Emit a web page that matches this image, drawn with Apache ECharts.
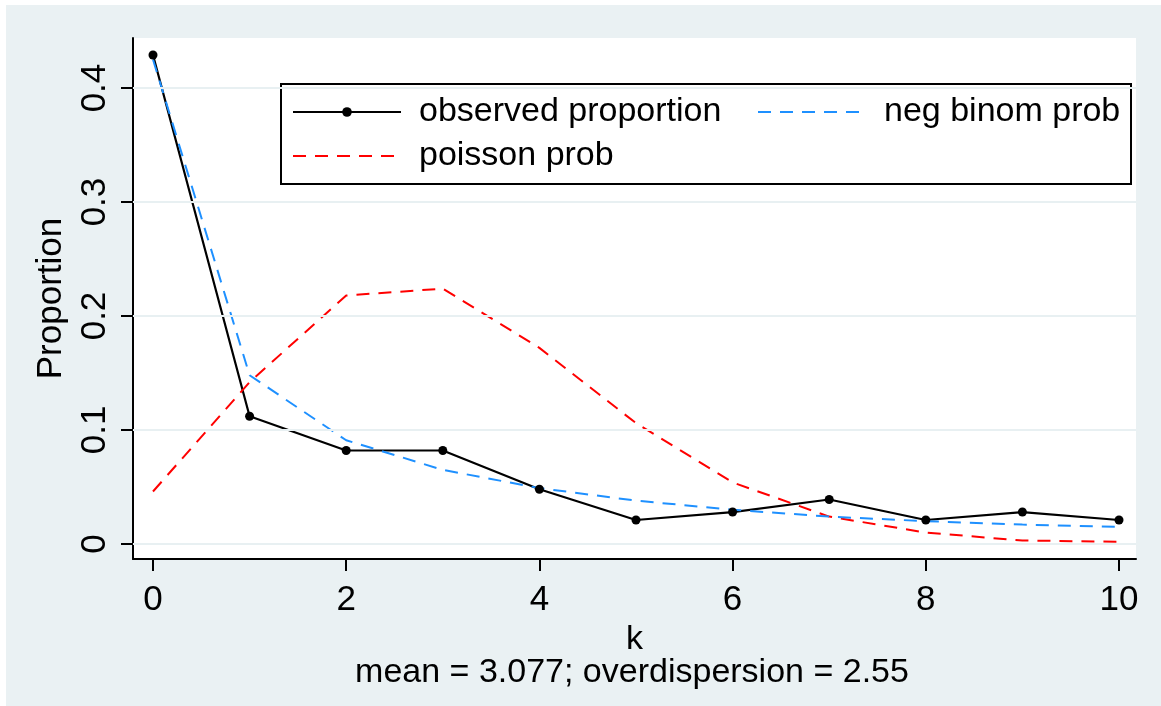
<!DOCTYPE html>
<html>
<head>
<meta charset="utf-8">
<script src="https://cdn.jsdelivr.net/npm/echarts@6/dist/echarts.min.js"></script>
<style>
html, body { margin: 0; padding: 0; background: #fff; }
#chart { position: absolute; left: 6px; top: 5px; width: 1155px; height: 701px; }
</style>
</head>
<body>
<div id="chart"></div>
<script>
// values
var kValues = [0, 1, 2, 3, 4, 5, 6, 7, 8, 9, 10];
var observed = [0.429, 0.112, 0.082, 0.082, 0.048, 0.021, 0.028, 0.039, 0.021, 0.028, 0.021];
var poisson = [0.046, 0.142, 0.218, 0.224, 0.172, 0.106, 0.054, 0.024, 0.010, 0.003, 0.002];
var negBinom = [0.425, 0.148, 0.091, 0.065, 0.049, 0.038, 0.030, 0.024, 0.020, 0.017, 0.015];
var xTicks = [0, 2, 4, 6, 8, 10];
var yTicks = [0, 0.1, 0.2, 0.3, 0.4];

var FONT = '"Liberation Sans", Arial, sans-serif';

function pairs(vals) {
	return kValues.map(function (k, i) { return [k, vals[i]]; });
}

function legendAt(name, left, top, hideDot) {
	var lg = {
		data: [name],
		left: left,
		top: top,
		padding: 0,
		itemWidth: 108,
		itemHeight: 12,
		selectedMode: false,
		textStyle: {
			fontFamily: FONT,
			fontSize: 34,
			color: '#000',
			padding: [0, 0, 0, 13]
		}
	};
	if (hideDot) {
		lg.itemStyle = { color: 'transparent', opacity: 0 };
	}
	return lg;
}

var option = {
	animation: false,
	backgroundColor: '#eaf1f3',
	grid: {
		left: 127,
		right: 25,
		top: 33,
		bottom: 147,
		show: true,
		backgroundColor: '#fff',
		borderWidth: 0
	},
	legend: [
		legendAt('observed proportion', 286, 90, false),
		legendAt('neg binom prob', 751, 90, true),
		legendAt('poisson prob', 286, 134, true)
	],
	graphic: [
		{
			type: 'rect',
			z: 3,
			shape: { x: 275, y: 79, width: 850, height: 100 },
			style: { fill: '#fff', stroke: '#000', lineWidth: 2 }
		},
		{
			type: 'text',
			z: 5,
			style: {
				text: 'mean = 3.077; overdispersion = 2.55',
				x: 626,
				y: 668,
				textAlign: 'center',
				textVerticalAlign: 'middle',
				font: '34px ' + FONT,
				fill: '#000'
			}
		}
	],
	xAxis: {
		type: 'value',
		min: -0.207,
		max: 10.176,
		name: 'k',
		nameLocation: 'middle',
		nameGap: 51,
		nameTextStyle: { fontFamily: FONT, fontSize: 34, color: '#000' },
		axisLine: { show: true, onZero: false, lineStyle: { color: '#000', width: 2 } },
		axisTick: { show: true, length: 12, lineStyle: { color: '#000', width: 2 }, customValues: xTicks },
		axisLabel: { fontFamily: FONT, fontSize: 35, color: '#000', margin: 24, customValues: xTicks },
		splitLine: { show: false }
	},
	yAxis: {
		type: 'value',
		min: -0.0132,
		max: 0.4439,
		name: 'Proportion',
		nameLocation: 'middle',
		nameRotate: 90,
		nameGap: 64,
		nameTextStyle: { fontFamily: FONT, fontSize: 35, color: '#000' },
		axisLine: { show: true, onZero: false, lineStyle: { color: '#000', width: 2 } },
		axisTick: { show: true, length: 12, lineStyle: { color: '#000', width: 2 }, customValues: yTicks },
		axisLabel: { fontFamily: FONT, fontSize: 35, color: '#000', margin: 20, rotate: 90, customValues: yTicks },
		splitLine: { show: false }
	},
	series: [
		{
			// grid lines at the y ticks
			type: 'line',
			z: 1,
			silent: true,
			data: [],
			markLine: {
				silent: true,
				symbol: 'none',
				label: { show: false },
				lineStyle: { color: '#e8f0f2', width: 2, type: 'solid' },
				data: yTicks.map(function (v) { return { yAxis: v }; })
			}
		},
		{
			name: 'observed proportion',
			type: 'line',
			data: pairs(observed),
			symbol: 'circle',
			symbolSize: 9,
			itemStyle: { color: '#000' },
			lineStyle: { color: '#000', width: 2.2 }
		},
		{
			name: 'poisson prob',
			type: 'line',
			data: pairs(poisson),
			symbol: 'none',
			itemStyle: { color: '#ff0000' },
			lineStyle: { color: '#ff0000', width: 2, type: [13, 9] }
		},
		{
			name: 'neg binom prob',
			type: 'line',
			data: pairs(negBinom),
			symbol: 'none',
			itemStyle: { color: '#1e90ff' },
			lineStyle: { color: '#1e90ff', width: 2, type: [13, 9] }
		}
	]
};

var myChart = echarts.init(document.getElementById('chart'));
myChart.setOption(option);
</script>
</body>
</html>
